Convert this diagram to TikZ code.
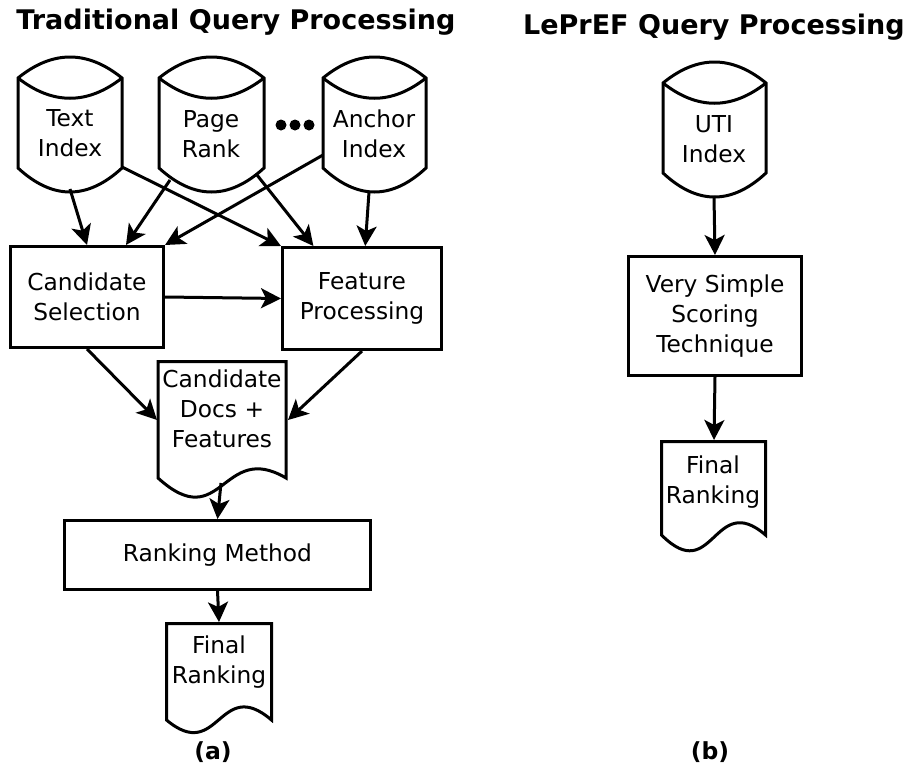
\documentclass[tikz,border=0pt]{standalone}
\usepackage{fontspec}
\setmainfont{DejaVu Sans}
\usetikzlibrary{arrows.meta,calc}
\newcommand\drawcyl[3]{%
  \draw[shapeline] ({#1},{#3}) .. controls ({#1+(#2-#1)/3},{#3-28}) and ({#2-(#2-#1)/3},{#3-28}) .. ({#2},{#3})
    -- ({#2},{#3+90}) .. controls ({#2-(#2-#1)/3},{#3+122}) and ({#1+(#2-#1)/3},{#3+122}) .. ({#1},{#3+90}) -- cycle;
  \draw[shapeline] ({#1},{#3}) .. controls ({#1+(#2-#1)/3},{#3+27}) and ({#2-(#2-#1)/3},{#3+27}) .. ({#2},{#3});
}
\newcommand\drawdoc[6]{%
  \draw[shapeline] ({#1},{#4}) -- ({#1},{#3}) -- ({#2},{#3}) -- ({#2},{#4})
    .. controls ({(#1+#2)/2},{#4-#6}) and ({(#1+#2)/2},{#4+#5}) .. ({#1},{#4}) -- cycle;
}
\begin{document}
\begin{tikzpicture}[x=1pt,y=-1pt,
  shapeline/.style={line width=3pt},
  lbl/.style={font=\fontsize{23.3}{30}\selectfont, align=center, inner sep=0pt},
  boxnode/.style={draw, line width=3pt, rectangle, inner sep=0pt, lbl},
  arr/.style={line width=3pt, -{Stealth[length=20pt,width=20pt,inset=5pt]}},
  ttl/.style={font=\fontsize{27}{32}\selectfont\bfseries, inner sep=0pt},
  subcap/.style={font=\fontsize{23.5}{28}\selectfont\bfseries, inner sep=0pt}]
\useasboundingbox (0,0) rectangle (908,764);

% titles
\node[ttl] (t1) at (236,22) {Traditional Query Processing};
\node[ttl] (t2) at (714,27) {LePrEF Query Processing};

% cylinders
\drawcyl{18}{122}{78}
\node[lbl] (ti) at (70,133) {Text\\Index};
\drawcyl{159}{264}{78}
\node[lbl] (pr) at (211,134) {Page\\Rank};
\drawcyl{323}{426}{78}
\node[lbl] (ai) at (374,134) {Anchor\\Index};
\drawcyl{663}{766}{83}
\node[lbl] (uti) at (714,139) {UTI\\Index};

% dots
\fill (281,125) circle (5.5);
\fill (295,125) circle (5.5);
\fill (309,125) circle (5.5);

% boxes
\node[boxnode, minimum width=153pt, minimum height=101pt] (cs) at (87,297) {Candidate\\Selection};
\node[boxnode, minimum width=159pt, minimum height=102pt] (fp) at (362,298.5) {Feature\\Processing};
\node[boxnode, minimum width=306pt, minimum height=69pt] (rm) at (217.5,555) {Ranking Method};
\node[boxnode, minimum width=173pt, minimum height=119pt] (vs) at (715,316) {Very Simple\\Scoring\\Technique};

% documents
\drawdoc{158}{286}{361.5}{478}{58}{38}
\node[lbl] (cd) at (222,409) {Candidate\\Docs +\\Features};
\drawdoc{166.5}{271.5}{623.5}{720}{44}{45}
\node[lbl] (fr) at (219,662) {Final\\Ranking};
\drawdoc{661.5}{765.5}{441.5}{535}{52}{45}
\node[lbl] (fr2) at (713,482) {Final\\Ranking};

% captions
\node[subcap] (ca) at (213,752) {(a)};
\node[subcap] (cb) at (710,752) {(b)};

% connector end points
\coordinate (ti-b) at (70,189);
\coordinate (ti-r) at (122,167);
\coordinate (pr-bl) at (170,180);
\coordinate (pr-br) at (257,175);
\coordinate (ai-l) at (323,155);
\coordinate (ai-b) at (369,192);
\coordinate (cd-l) at (157,420);
\coordinate (cd-r) at (288,420);
\coordinate (cd-b) at (221,483);
\coordinate (fr-t) at (219,622);
\coordinate (uti-b) at (714,196);
\coordinate (fr2-t) at (714,440);

% connectors
\draw[arr] (ti-b) -- (cs.north);
\draw[arr] (pr-bl) -- ($(cs.north)!0.5!(cs.north east)$);
\draw[arr] (ai-l) -- (cs.north east);
\draw[arr] (ti-r) -- (fp.north west);
\draw[arr] (pr-br) -- ($(fp.north west)!0.2!(fp.north east)$);
\draw[arr] (ai-b) -- ($(fp.north west)!0.52!(fp.north east)$);
\draw[arr] (cs.east) -- (fp.west);
\draw[arr] (cs.south) -- (cd-l);
\draw[arr] (fp.south) -- (cd-r);
\draw[arr] (cd-b) -- (rm.north);
\draw[arr] (rm.south) -- (fr-t);
\draw[arr] (uti-b) -- (vs.north);
\draw[arr] (vs.south) -- (fr2-t);
\end{tikzpicture}
\end{document}
